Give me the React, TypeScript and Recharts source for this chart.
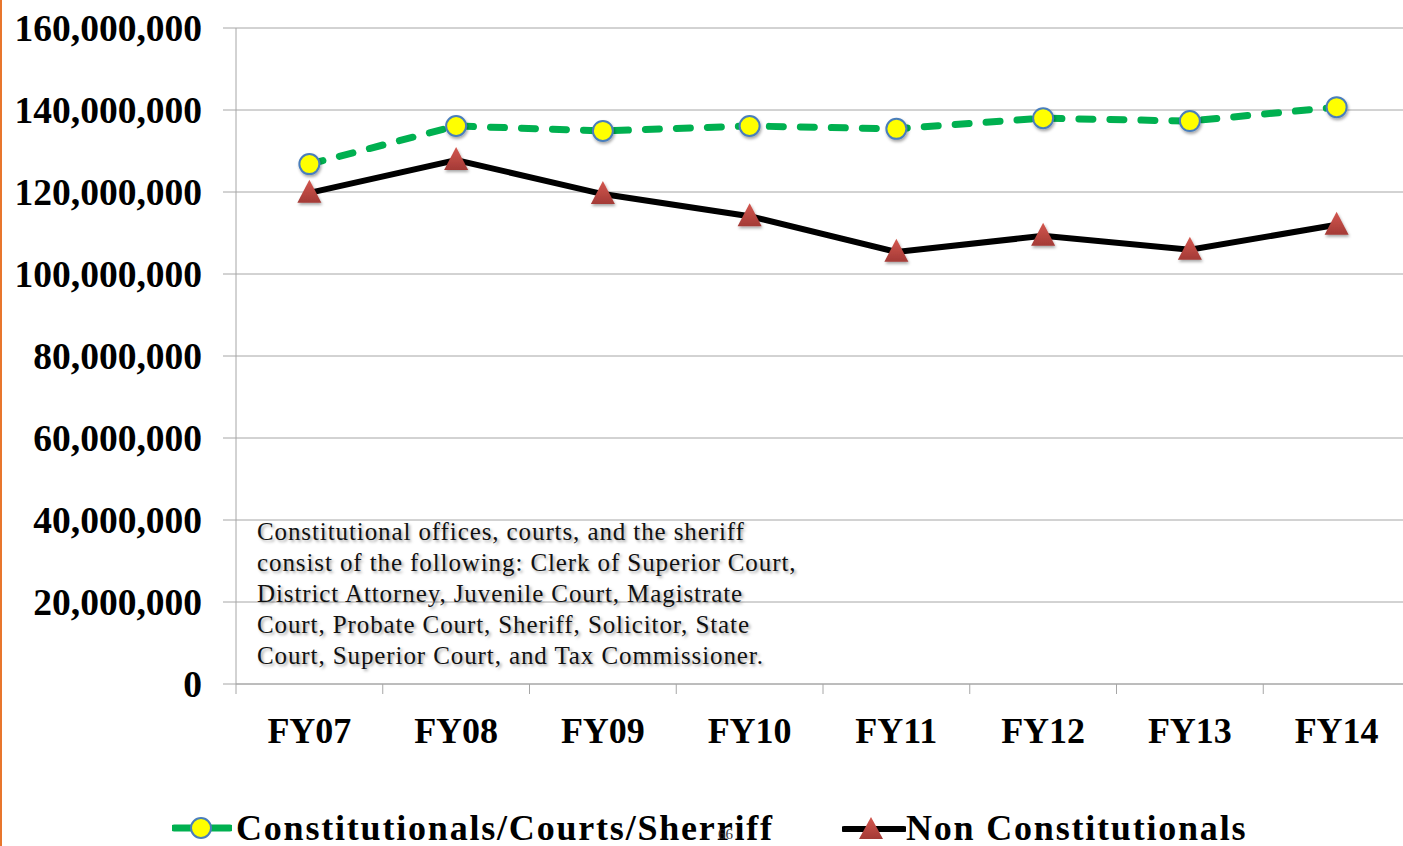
import React from 'react';
import { ComposedChart, Line, XAxis, YAxis, CartesianGrid, Legend } from 'recharts';

const categories = ['FY07', 'FY08', 'FY09', 'FY10', 'FY11', 'FY12', 'FY13', 'FY14'];
const constitutionals = [126.8e6, 136.1e6, 134.9e6, 136.1e6, 135.4e6, 138.0e6, 137.3e6, 140.7e6];
const nonConstitutionals = [119.8e6, 127.8e6, 119.5e6, 114.1e6, 105.4e6, 109.3e6, 105.9e6, 112.0e6];
const yTicks = [0, 20e6, 40e6, 60e6, 80e6, 100e6, 120e6, 140e6, 160e6];

const seriesNames = ['Constitutionals/Courts/Sherriff', 'Non Constitutionals'];
const noteLines = [
  'Constitutional offices, courts, and the sheriff',
  'consist of the following: Clerk of Superior Court,',
  'District Attorney, Juvenile Court, Magistrate',
  'Court, Probate Court, Sheriff, Solicitor, State',
  'Court, Superior Court, and Tax Commissioner.',
];

const data = categories.map((name, i) => ({
  name,
  con: constitutionals[i],
  non: nonConstitutionals[i],
}));

const serif = '"Liberation Serif", "Times New Roman", serif';
const gridGray = '#a6a6a6';
const X_TICK_MARGIN = 33;

const CircleDot = (props: any) => {
  const { cx, cy } = props;
  if (cx == null || cy == null) return null;
  return <circle cx={cx} cy={cy} r={10} fill="#ffff00" stroke="#4a7ebb" strokeWidth={2} filter="url(#shadow)" />;
};

const TriangleDot = (props: any) => {
  const { cx, cy } = props;
  if (cx == null || cy == null) return null;
  return (
    <polygon
      points={`${cx - 12},${cy + 10} ${cx},${cy - 13} ${cx + 12},${cy + 10}`}
      fill="url(#triFill)"
      filter="url(#shadow)"
    />
  );
};

// category label plus tick marks on the band boundaries
const CategoryTick = (props: any) => {
  const { x, y, width, payload, index, visibleTicksCount } = props;
  const half = width / visibleTicksCount / 2;
  const axisY = y - X_TICK_MARGIN;
  const last = index === visibleTicksCount - 1;
  return (
    <g>
      <line x1={x - half} y1={axisY} x2={x - half} y2={axisY + 10} stroke={gridGray} />
      {last && <line x1={x + half} y1={axisY} x2={x + half} y2={axisY + 10} stroke={gridGray} />}
      <text x={x} y={y} dy="0.71em" textAnchor="middle" fontFamily={serif} fontWeight="bold" fontSize={36} fill="#000">
        {payload.value}
      </text>
    </g>
  );
};

const renderLegend = () => (
  <div style={{ position: 'relative', height: 60, fontFamily: serif, fontWeight: 'bold', fontSize: 36, letterSpacing: 1.8, color: '#000' }}>
    <div style={{ position: 'absolute', left: 172, top: 0, height: 60, display: 'flex', alignItems: 'center' }}>
      <svg width={60} height={30}>
        <line x1={2} y1={15} x2={58} y2={15} stroke="#00b050" strokeWidth={7} strokeLinecap="round" />
        <circle cx={29} cy={15} r={10} fill="#ffff00" stroke="#4a7ebb" strokeWidth={2} />
      </svg>
      <span style={{ marginLeft: 4, whiteSpace: 'nowrap' }}>{seriesNames[0]}</span>
    </div>
    <div style={{ position: 'absolute', left: 842, top: 0, height: 60, display: 'flex', alignItems: 'center' }}>
      <svg width={64} height={30}>
        <defs>
          <linearGradient id="triFillLegend" x1="0" y1="0" x2="0" y2="1">
            <stop offset="0%" stopColor="#d4574f" />
            <stop offset="100%" stopColor="#a33a36" />
          </linearGradient>
        </defs>
        <line x1={2} y1={16} x2={62} y2={16} stroke="#000" strokeWidth={6} strokeLinecap="round" />
        <polygon points="17,26 29,4 41,26" fill="url(#triFillLegend)" />
      </svg>
      <span style={{ whiteSpace: 'nowrap' }}>{seriesNames[1]}</span>
    </div>
  </div>
);

export default function App() {
  return (
    <div style={{ position: 'absolute', left: 0, top: 0, width: 1403, height: 846, overflow: 'hidden', background: '#fff' }}>
      <div style={{ position: 'absolute', left: 0, top: 0, width: 2, height: 846, background: '#e8762d' }} />
      <ComposedChart width={1420} height={870} data={data} margin={{ top: 28, right: 10, bottom: 12, left: 0 }}>
        <defs>
          <linearGradient id="triFill" x1="0" y1="0" x2="0" y2="1">
            <stop offset="0%" stopColor="#d4574f" />
            <stop offset="100%" stopColor="#a33a36" />
          </linearGradient>
          <filter id="shadow" x="-50%" y="-50%" width="200%" height="200%">
            <feDropShadow dx="1" dy="2" stdDeviation="1.5" floodColor="#000" floodOpacity="0.35" />
          </filter>
        </defs>
        <CartesianGrid vertical={false} stroke={gridGray} strokeWidth={1} />
        <XAxis
          dataKey="name"
          scale="band"
          height={114}
          axisLine={{ stroke: gridGray }}
          tickLine={false}
          tickSize={0}
          tickMargin={X_TICK_MARGIN}
          interval={0}
          tick={<CategoryTick />}
        />
        <YAxis
          domain={[0, 160e6]}
          ticks={yTicks}
          width={236}
          axisLine={{ stroke: gridGray }}
          tickLine={{ stroke: gridGray }}
          tickSize={13}
          tickMargin={21}
          tickFormatter={(v: number) => v.toLocaleString('en-US')}
          tick={{ fontFamily: serif, fontWeight: 'bold', fontSize: 37.5, fill: '#000' }}
        />
        <Line
          dataKey="con"
          name={seriesNames[0]}
          stroke="#00b050"
          strokeWidth={7}
          strokeDasharray="14 17"
          strokeLinecap="round"
          dot={<CircleDot />}
          activeDot={false}
          isAnimationActive={false}
        />
        <Line
          dataKey="non"
          name={seriesNames[1]}
          stroke="#000"
          strokeWidth={6}
          dot={<TriangleDot />}
          activeDot={false}
          isAnimationActive={false}
        />
        <Legend verticalAlign="bottom" content={renderLegend} />
      </ComposedChart>
      <div
        style={{
          position: 'absolute',
          left: 257,
          top: 516,
          fontFamily: serif,
          fontSize: 25,
          letterSpacing: 0.9,
          lineHeight: '31px',
          color: '#111',
          textShadow: '2px 2px 3px rgba(0,0,0,0.35)',
          whiteSpace: 'nowrap',
        }}
      >
        {noteLines.map((line) => (
          <div key={line}>{line}</div>
        ))}
      </div>
      <div style={{ position: 'absolute', left: 718, top: 826, fontFamily: serif, fontSize: 15, color: '#333' }}>66</div>
    </div>
  );
}
